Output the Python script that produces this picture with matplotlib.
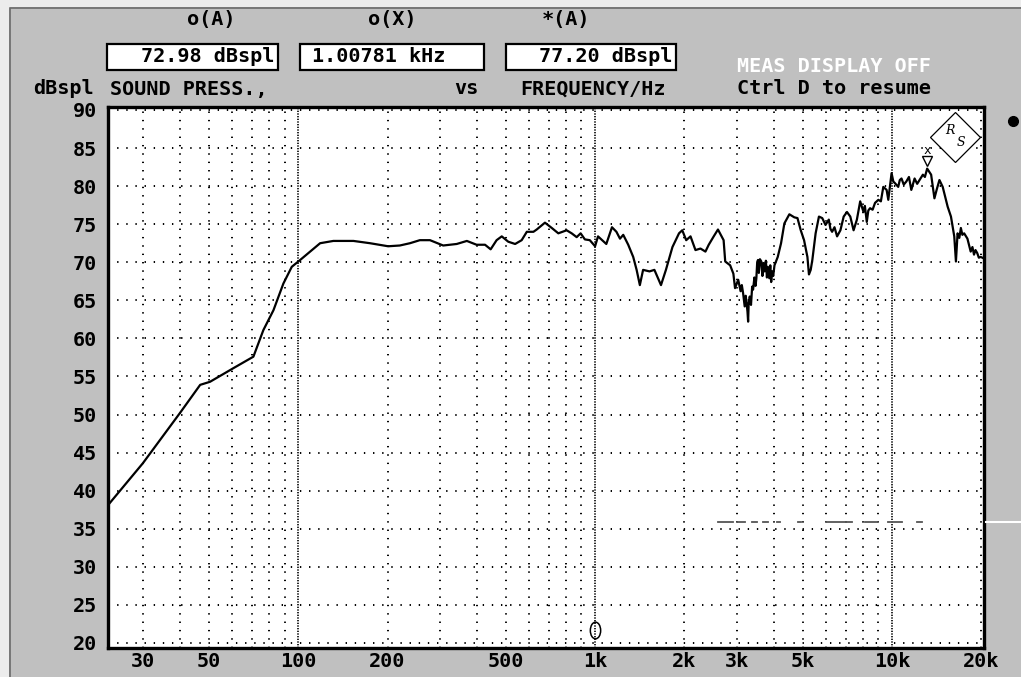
import matplotlib
matplotlib.use('Agg')
import matplotlib.pyplot as plt
from matplotlib.patches import Rectangle
from matplotlib.lines import Line2D
from matplotlib.path import Path
from matplotlib.transforms import Affine2D

W, H = 1021, 677
GRAY = '#c0c0c0'
FONT = ['DejaVu Sans Mono']
FS = 14.5

freq = [22.9, 30, 40, 46.8, 50.5, 60.6, 70.7, 76.4, 82.6, 89.2, 95.2, 101.6, 109.7, 118.6,
        131.4, 153.6, 174.7, 201, 220, 238, 257, 278, 308, 342, 370, 399, 426, 445, 466,
        485, 510, 538, 566, 589, 620, 636, 678, 715, 752, 802, 834, 867, 894, 924, 960,
        1000, 1023, 1091, 1140, 1180, 1213, 1244, 1293, 1344, 1380, 1415, 1451, 1525,
        1584, 1667, 1732, 1822, 1917, 1966, 2027, 2096, 2178, 2264, 2353, 2414, 2509,
        2593, 2709, 2743, 2850, 2922, 2960, 3034, 3090, 3120, 3152, 3190, 3215, 3234,
        3260, 3276, 3290, 3318, 3350, 3380, 3404, 3440, 3470, 3492, 3515, 3537, 3560,
        3590, 3629, 3660, 3690, 3723, 3760, 3790, 3818, 3860, 3890, 3917, 3950, 3980,
        4019, 4122, 4229, 4339, 4510, 4687, 4803, 4927, 5055, 5188, 5250, 5322, 5390,
        5529, 5673, 5820, 5970, 6124, 6200, 6283, 6400, 6530, 6700, 6873, 7051, 7234,
        7421, 7614, 7811, 8013, 8100, 8221, 8320, 8434, 8600, 8765, 8993, 9170, 9345,
        9588, 9713, 9963, 10100, 10220, 10490, 10620, 10760, 10950, 11170, 11400, 11610,
        11910, 12150, 12380, 12700, 12900, 13130, 13540, 13890, 14150, 14440, 14810,
        15390, 15790, 16200, 16410, 16620, 16850, 17050, 17250, 17490, 17940, 18400,
        18650, 18880, 19100, 19360, 19600, 19870, 20400]
spl = [38.1, 43.6, 50.2, 53.9, 54.3, 56.1, 57.6, 61.1, 63.7, 67.2, 69.4, 70.3, 71.4, 72.5,
       72.8, 72.8, 72.5, 72.1, 72.2, 72.5, 72.9, 72.9, 72.2, 72.4, 72.8, 72.3, 72.3, 71.7, 72.9,
       73.4, 72.7, 72.4, 72.9, 74.0, 74.0, 74.3, 75.2, 74.5, 73.8, 74.2, 73.8, 73.3, 73.8, 73.0, 72.9,
       72.1, 73.4, 72.4, 74.6, 74.0, 73.1, 73.6, 72.3, 70.7, 69.0, 67.0, 69.0, 68.8,
       69.0, 67.0, 69.0, 72.0, 73.8, 74.2, 72.9, 73.4, 71.6, 71.8, 71.4, 72.3, 73.4,
       74.3, 72.9, 70.1, 69.6, 68.5, 66.6, 67.7, 66.2, 67.0, 65.9, 64.2, 65.6, 64.8,
       63.5, 62.2, 64.6, 65.5, 64.4, 66.8, 66.4, 68.0, 66.9, 67.9, 70.0, 70.3, 68.6,
       70.4, 70.1, 68.2, 69.9, 68.8, 70.2, 68.0, 69.4, 67.9, 69.6, 67.4, 68.8, 68.2,
       69.6, 70.7, 72.5, 75.1, 76.3, 75.9, 75.8, 74.2, 72.9, 70.7, 68.4, 69.0, 70.3,
       73.8, 76.0, 75.8, 74.9, 75.6, 74.4, 74.0, 74.6, 73.4, 74.2, 76.0, 76.6, 76.0,
       74.2, 75.6, 78.0, 76.6, 77.4, 75.3, 76.8, 77.1, 76.9, 77.8, 78.2, 78.0, 79.9,
       79.5, 78.2, 81.7, 80.6, 80.4, 79.9, 80.8, 81.0, 80.2, 80.6, 81.2, 79.5,
       81.0, 80.3, 80.8, 81.5, 81.2, 82.3, 81.5, 78.4, 79.6, 80.8, 79.9,
       77.3, 76.0, 73.4, 70.1, 73.8, 73.2, 74.5, 73.6, 73.8, 73.1, 71.4,
       72.0, 71.0, 71.6, 71.2, 70.6, 70.7, 70.5]

# faint dashed trace near 36 dB (start, end frequency of each dash)
dash_start = [2595, 3030, 3378, 3679, 4101, 4826, 6041, 8111, 9694, 12140]
dash_end = [2915, 3200, 3512, 3823, 4197, 4939, 7333, 8903, 10807, 12620]
dash_level = 35.9

x_ticks = [30, 50, 100, 200, 500, 1000, 2000, 3000, 5000, 10000, 20000]
x_labels = ['30', '50', '100', '200', '500', '1k', '2k', '3k', '5k', '10k', '20k']
y_ticks = list(range(20, 95, 5))
grid_decade = [100, 1000, 10000]
grid_minor = [30, 40, 50, 60, 70, 80, 90, 200, 300, 400, 500, 600, 700, 800, 900,
              2000, 3000, 4000, 5000, 6000, 7000, 8000, 9000, 20000]

marker_freq = 1000
peak_freq = 13130
peak_spl = 82.3


def fx(x):
    return x / W


def fy(y):
    return 1 - y / H


fig = plt.figure(figsize=(W / 100, H / 100), dpi=100, facecolor='#ececec')
fig.add_artist(Rectangle((fx(9), 0), 1 - fx(9), fy(7), transform=fig.transFigure,
                         facecolor=GRAY, edgecolor='none', zorder=-10))
fig.add_artist(Line2D([fx(9.5), fx(9.5), 1], [0, fy(7.5), fy(7.5)],
                      transform=fig.transFigure, color='#6a6a6a', lw=1.2, zorder=-9))
# little white line at right border
fig.add_artist(Line2D([fx(986), 1], [fy(522), fy(522)], transform=fig.transFigure,
                      color='white', lw=1.5))
# status symbol top right
fig.add_artist(Line2D([fx(1013)], [fy(121)], transform=fig.transFigure, marker='o',
                      ms=7, color='black'))

ax = fig.add_axes([fx(108), fy(648), fx(984) - fx(108), fy(107) - fy(648)])
ax.set_facecolor('white')
ax.set_xscale('log')
ax.set_xlim(22.9, 20400)
ax.set_ylim(19.34, 90.39)

for y in y_ticks:
    ax.axhline(y, color='black', lw=1.4, ls=(0, (0.7, 4.0)), zorder=1)
for f in grid_minor:
    ax.axvline(f, color='black', lw=1.4, ls=(0, (0.7, 3.6)), zorder=1)
for f in grid_decade:
    ax.axvline(f, color='black', lw=1.2, ls=(0, (0.8, 0.8)), zorder=1)

for a, b in zip(dash_start, dash_end):
    ax.plot([a, b], [dash_level, dash_level], color='#555555', lw=1.3, zorder=2)

ax.plot(freq, spl, color='black', lw=1.6, zorder=3)

# marker o at 1 kHz
ell = Path.unit_circle().transformed(Affine2D().scale(0.62, 1.0))
ax.plot([marker_freq], [21.7], marker=ell, ms=12, mfc='none', mec='black', mew=1.1,
        zorder=4, clip_on=False)
# marker * at the peak
ax.plot([peak_freq], [peak_spl + 1.0], marker='v', ms=7, mfc='white', mec='black',
        mew=1.0, zorder=4)
ax.text(peak_freq, peak_spl + 2.4, 'x', ha='center', va='center', fontsize=9,
        family=FONT, zorder=4)

# R&S logo
ax.plot([16300], [86.5], marker='D', ms=25, mfc='white', mec='black', mew=0.9, zorder=4)
ax.text(15700, 87.3, 'R', ha='center', va='center', fontsize=9, style='italic',
        family='DejaVu Serif', zorder=5)
ax.text(17000, 85.7, 'S', ha='center', va='center', fontsize=9, style='italic',
        family='DejaVu Serif', zorder=5)

ax.set_xticks(x_ticks)
ax.set_xticklabels(x_labels)
ax.set_xticks([], minor=True)
ax.set_yticks(y_ticks)
ax.set_yticklabels([str(v) for v in y_ticks])
ax.tick_params(length=0, labelsize=FS)
ax.tick_params(axis='y', pad=8)
ax.tick_params(axis='x', pad=3)
for lab in ax.get_xticklabels() + ax.get_yticklabels():
    lab.set_fontweight('bold')
    lab.set_family(FONT)
for s in ax.spines.values():
    s.set_linewidth(2.4)
    s.set_color('black')

# header boxes
for x0, x1 in [(107, 278), (300, 484), (506, 676)]:
    fig.add_artist(Rectangle((fx(x0), fy(70)), fx(x1) - fx(x0), fy(44) - fy(70),
                             transform=fig.transFigure, facecolor='white',
                             edgecolor='black', lw=1.6))

def label(x, y, s, ha='left', color='black'):
    fig.text(fx(x), fy(y), s, ha=ha, va='center', fontsize=FS, fontweight='bold',
             family=FONT, color=color)

label(211, 19, 'o(A)', ha='center')
label(392, 19, 'o(X)', ha='center')
label(566, 19, '*(A)', ha='center')
label(274, 57, '72.98 dBspl', ha='right')
label(312, 57, '1.00781 kHz')
label(672, 57, '77.20 dBspl', ha='right')
label(737, 66, 'MEAS DISPLAY OFF', color='white')
label(33, 89, 'dBspl')
label(110, 89, 'SOUND PRESS.,')
label(466, 89, 'vs', ha='center')
label(520, 89, 'FREQUENCY/Hz')
label(737, 89, 'Ctrl D to resume')

fig.savefig('out.png', dpi=100, facecolor=fig.get_facecolor())
